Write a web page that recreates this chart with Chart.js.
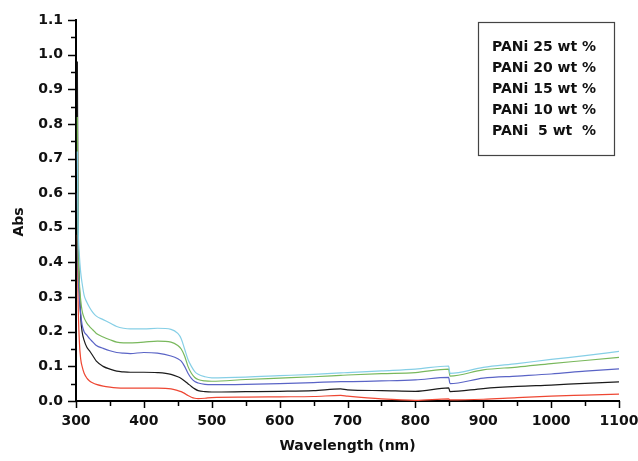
<!DOCTYPE html>
<html>
<head>
<meta charset="utf-8">
<script src="https://cdn.jsdelivr.net/npm/chart.js@4"></script>
<style>
  body { margin: 0; background: #fff; }
  #wrap { width: 638px; height: 461px; }
</style>
</head>
<body>
<div id="wrap"><canvas id="myChart" width="638" height="461"></canvas></div>
<script>
// wavelength (nm), shared by all five spectra
const wavelengths = [302, 303, 305, 307, 309, 312, 316, 320, 325, 330, 340, 350, 360, 370, 380, 400, 420, 440, 450, 455,
  460, 465, 470, 475, 480, 490, 500, 550, 600, 650, 690, 700, 750, 800, 849, 851, 900, 950, 1000, 1050, 1100];

const pani25 = [0.72, 0.52, 0.42, 0.37, 0.34, 0.305, 0.285, 0.27, 0.255, 0.245, 0.235, 0.225, 0.215, 0.21, 0.208, 0.208, 0.21, 0.207, 0.195, 0.18,
  0.15, 0.12, 0.1, 0.085, 0.077, 0.07, 0.067, 0.069, 0.073, 0.077, 0.081, 0.082, 0.087, 0.092, 0.101, 0.08, 0.097, 0.108, 0.12, 0.131, 0.143];
const pani20 = [0.82, 0.47, 0.34, 0.29, 0.26, 0.24, 0.225, 0.215, 0.205, 0.195, 0.185, 0.177, 0.17, 0.168, 0.168, 0.17, 0.173, 0.17, 0.16, 0.15,
  0.13, 0.1, 0.08, 0.068, 0.062, 0.058, 0.057, 0.062, 0.066, 0.07, 0.074, 0.075, 0.079, 0.082, 0.092, 0.072, 0.09, 0.098, 0.108, 0.117, 0.126];
const pani15 = [0.6, 0.4, 0.3, 0.25, 0.22, 0.2, 0.19, 0.18, 0.17, 0.16, 0.152, 0.145, 0.14, 0.138, 0.137, 0.14, 0.138, 0.13, 0.122, 0.115,
  0.1, 0.08, 0.065, 0.056, 0.052, 0.048, 0.047, 0.048, 0.05, 0.053, 0.056, 0.056, 0.058, 0.061, 0.068, 0.05, 0.066, 0.072, 0.078, 0.086, 0.093];
const pani10 = [0.98, 0.55, 0.33, 0.24, 0.2, 0.175, 0.155, 0.145, 0.13, 0.115, 0.1, 0.092, 0.086, 0.084, 0.083, 0.083, 0.082, 0.077, 0.07, 0.065,
  0.058, 0.05, 0.042, 0.035, 0.03, 0.027, 0.026, 0.027, 0.028, 0.03, 0.035, 0.032, 0.03, 0.028, 0.038, 0.027, 0.036, 0.042, 0.046, 0.051, 0.055];
const pani5 = [0.48, 0.3, 0.17, 0.12, 0.1, 0.08, 0.066, 0.058, 0.052, 0.048, 0.043, 0.04, 0.038, 0.037, 0.037, 0.037, 0.037, 0.035, 0.03, 0.027,
  0.022, 0.016, 0.011, 0.008, 0.007, 0.008, 0.01, 0.011, 0.012, 0.013, 0.016, 0.014, 0.006, 0.002, 0.006, 0.003, 0.005, 0.01, 0.014, 0.017, 0.02];

const seriesNames = ["PANi 25 wt %", "PANi 20 wt %", "PANi 15 wt %", "PANi 10 wt %", "PANi  5 wt  %"];
const seriesValues = [pani25, pani20, pani15, pani10, pani5];
const seriesColors = ["#86cfe6", "#79b85c", "#5a64c6", "#1b1b1b", "#ee4733"];

const FONT = "bold 14px 'DejaVu Sans'";

const datasets = seriesValues.map((vals, i) => ({
  label: seriesNames[i],
  data: wavelengths.map((w, j) => ({ x: w, y: vals[j] })),
  borderColor: seriesColors[i],
  borderWidth: 1.2,
  pointRadius: 0,
  fill: false,
  cubicInterpolationMode: "monotone",
}));

// outward major/minor ticks, axis titles and the boxed legend
const decorations = {
  id: "decorations",
  afterDraw(chart) {
    const { ctx, chartArea: { left, right, top, bottom }, scales: { x, y } } = chart;
    ctx.save();
    ctx.strokeStyle = "#000";
    ctx.lineWidth = 1.5;
    ctx.beginPath();
    for (let i = 0; i <= 22; i++) {
      const py = Math.round(y.getPixelForValue(i * 0.05)) + 0.5;
      const len = i % 2 == 0 ? 8 : 5;
      ctx.moveTo(left - len, py);
      ctx.lineTo(left, py);
    }
    for (let i = 0; i <= 16; i++) {
      const px = Math.round(x.getPixelForValue(300 + i * 50)) + 0.5;
      const len = i % 2 == 0 ? 7 : 5;
      ctx.moveTo(px, bottom);
      ctx.lineTo(px, bottom + len);
    }
    ctx.stroke();

    // axis titles
    ctx.fillStyle = "#111";
    ctx.font = FONT;
    ctx.textAlign = "center";
    ctx.textBaseline = "middle";
    ctx.fillText("Wavelength (nm)", (left + right) / 2, 446);
    ctx.save();
    ctx.translate(19, 222);
    ctx.rotate(-Math.PI / 2);
    ctx.fillText("Abs", 0, 0);
    ctx.restore();

    // legend box
    const bx = right - 141, by = top + 2;
    ctx.strokeStyle = "#444";
    ctx.lineWidth = 1.2;
    ctx.strokeRect(bx + 0.5, by + 0.5, 136, 133);
    ctx.textAlign = "left";
    seriesNames.forEach((name, i) => {
      ctx.fillText(name, bx + 14, by + 25 + i * 21);
    });
    ctx.restore();
  },
};

const myChart = new Chart(document.getElementById("myChart"), {
  type: "line",
  data: { datasets: datasets },
  options: {
    responsive: false,
    animation: false,
    events: [],
    layout: { padding: { top: 20, right: 19, left: 0, bottom: 0 } },
    plugins: {
      legend: { display: false },
      tooltip: { enabled: false },
    },
    scales: {
      x: {
        type: "linear",
        min: 300,
        max: 1100,
        grid: { display: false, drawTicks: false },
        border: { display: true, color: "#000", width: 2 },
        ticks: {
          stepSize: 100,
          padding: 12,
          color: "#111",
          font: { family: "DejaVu Sans", size: 14, weight: "bold" },
          maxRotation: 0,
          callback: (v) => String(v),
        },
        afterFit(scale) {
          scale.height = 60;
          scale.paddingLeft = 0;
          scale.paddingRight = 0;
        },
      },
      y: {
        min: 0,
        max: 1.1,
        grid: { display: false, drawTicks: false },
        border: { display: true, color: "#000", width: 2 },
        ticks: {
          stepSize: 0.1,
          padding: 13,
          color: "#111",
          font: { family: "DejaVu Sans", size: 14, weight: "bold" },
          callback: (v) => Number(v).toFixed(1),
        },
        afterFit(scale) {
          scale.width = 76;
          scale.paddingTop = 0;
          scale.paddingBottom = 0;
        },
      },
    },
  },
  plugins: [decorations],
});
</script>
</body>
</html>
